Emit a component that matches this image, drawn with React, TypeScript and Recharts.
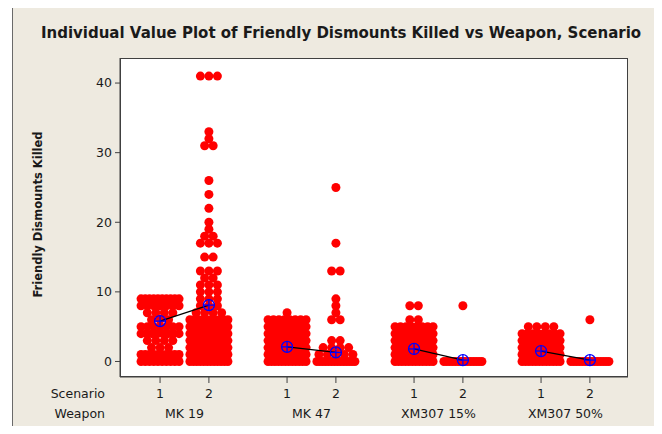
import React from 'react';
import { ScatterChart, Scatter, XAxis, YAxis } from 'recharts';

const weapons = ['MK 19', 'MK 47', 'XM307 15%', 'XM307 50%'];
const scenarios = ['1', '2'];

// [friendly dismounts killed, number of runs] per weapon / scenario
const mk19Scen1: [number, number][] = [
  [0, 10], [1, 10], [2, 3], [3, 4], [4, 8], [5, 7], [6, 3], [7, 4], [8, 7], [9, 10],
];
const mk19Scen2: [number, number][] = [
  [0, 12], [1, 10], [2, 10], [3, 10], [4, 10], [5, 10], [6, 10], [7, 4], [8, 3],
  [9, 3], [10, 3], [11, 3], [12, 2], [13, 3], [15, 2], [17, 3], [18, 2], [19, 1],
  [20, 1], [22, 1], [24, 1], [26, 1], [31, 2], [32, 1], [33, 1], [41, 3],
];
const mk47Scen1: [number, number][] = [
  [0, 12], [1, 10], [2, 10], [3, 10], [4, 10], [5, 10], [6, 8], [7, 1],
];
const mk47Scen2: [number, number][] = [
  [0, 14], [1, 5], [2, 4], [3, 2], [6, 2], [7, 1], [8, 1], [9, 1], [13, 2], [17, 1], [25, 1],
];
const xm15Scen1: [number, number][] = [
  [0, 12], [1, 10], [2, 10], [3, 10], [4, 10], [5, 8], [6, 2], [8, 2],
];
const xm15Scen2: [number, number][] = [[0, 14], [8, 1]];
const xm50Scen1: [number, number][] = [
  [0, 12], [1, 10], [2, 10], [3, 10], [4, 8], [5, 4],
];
const xm50Scen2: [number, number][] = [[0, 14], [6, 1]];

// scenario means (blue markers)
const meanScen1 = [5.8, 2.1, 1.8, 1.5];
const meanScen2 = [8.1, 1.3, 0.2, 0.2];

const groups = [
  [mk19Scen1, mk19Scen2],
  [mk47Scen1, mk47Scen2],
  [xm15Scen1, xm15Scen2],
  [xm50Scen1, xm50Scen2],
];

const GROUP_GAP = 2.6;
const X_DOMAIN: [number, number] = [0.18, 10.58];
const PX_PER_UNIT = 508 / (X_DOMAIN[1] - X_DOMAIN[0]);
const FONT = '"DejaVu Sans", Verdana, sans-serif';
const TEXT = '#1a1a1a';
const AXIS = '#404040';

const slot = (w: number, s: number) => w * GROUP_GAP + s + 1;

const scenarioTicks = weapons.flatMap((_, w) => [slot(w, 0), slot(w, 1)]);

// spread equal values sideways like Minitab's jitter
const points: { x: number; y: number }[] = [];
groups.forEach((pair, w) =>
  pair.forEach((rows, s) =>
    rows.forEach(([value, count]) => {
      const half = Math.min(19, (count - 1) * 4.25) / PX_PER_UNIT;
      for (let k = 0; k < count; k++) {
        const off = count === 1 ? 0 : -half + (2 * half * k) / (count - 1);
        points.push({ x: slot(w, s) + off, y: value });
      }
    })
  )
);

const meanLines = weapons.map((_, w) => [
  { x: slot(w, 0), y: meanScen1[w] },
  { x: slot(w, 1), y: meanScen2[w] },
]);

const Dot = (props: any) => <circle cx={props.cx} cy={props.cy} r={4.5} fill="#ff0000" />;

const MeanMarker = (props: any) => {
  const { cx, cy } = props;
  const r = 5.5;
  return (
    <g stroke="#0000ff" strokeWidth={1.3} fill="none">
      <circle cx={cx} cy={cy} r={r} />
      <line x1={cx - r} y1={cy} x2={cx + r} y2={cy} />
      <line x1={cx} y1={cy - r} x2={cx} y2={cy + r} />
    </g>
  );
};

// scenario number under each tick, weapon name centred under each pair
const ScenarioTick = (props: any) => {
  const { x, y, index } = props;
  const w = Math.floor(index / 2);
  return (
    <g fontFamily={FONT} fontSize={12.5} fill={TEXT}>
      <text x={x} y={y + 7} textAnchor="middle" dominantBaseline="central">
        {scenarios[index % 2]}
      </text>
      {index % 2 === 0 && (
        <text x={x + PX_PER_UNIT / 2} y={y + 27} textAnchor="middle" dominantBaseline="central">
          {weapons[w]}
        </text>
      )}
    </g>
  );
};

const YLabel = ({ viewBox }: any) => {
  const cx = viewBox.x + 38;
  const cy = viewBox.y + viewBox.height / 2 - 3;
  return (
    <text
      x={cx}
      y={cy}
      transform={`rotate(-90 ${cx} ${cy})`}
      textAnchor="middle"
      dominantBaseline="central"
      fontFamily={FONT}
      fontWeight="bold"
      fontSize={11.5}
      fill={TEXT}
    >
      Friendly Dismounts Killed
    </text>
  );
};

const RowLabels = ({ viewBox }: any) => (
  <g fontFamily={FONT} fontSize={12.5} fill={TEXT} textAnchor="end">
    <text x={viewBox.x - 15} y={viewBox.y + 16} dominantBaseline="central">
      Scenario
    </text>
    <text x={viewBox.x - 15} y={viewBox.y + 36} dominantBaseline="central">
      Weapon
    </text>
  </g>
);

export default function App() {
  return (
    <div style={{ position: 'relative', width: 662, height: 434, margin: -8 }}>
      <div
        style={{
          position: 'absolute',
          left: 12,
          top: 7,
          width: 644,
          height: 424,
          background: '#eeeae0',
          border: '1px solid #6a6a6a',
        }}
      />
      <div
        style={{
          position: 'absolute',
          left: 120,
          top: 58,
          width: 508,
          height: 319,
          background: '#ffffff',
          boxSizing: 'border-box',
          border: `1px solid ${AXIS}`,
        }}
      />
      <div
        style={{
          position: 'absolute',
          left: 341,
          top: 24,
          transform: 'translateX(-50%)',
          whiteSpace: 'nowrap',
          fontFamily: FONT,
          fontWeight: 'bold',
          fontSize: 15,
          color: TEXT,
        }}
      >
        Individual Value Plot of Friendly Dismounts Killed vs Weapon, Scenario
      </div>
      <div style={{ position: 'absolute', left: 0, top: 0 }}>
        <ScatterChart width={662} height={434} margin={{ top: 58, right: 34, bottom: 13, left: 0 }}>
          <XAxis
            type="number"
            dataKey="x"
            domain={X_DOMAIN}
            allowDataOverflow
            ticks={scenarioTicks}
            interval={0}
            height={44}
            tickSize={6}
            tickMargin={3}
            stroke={AXIS}
            tick={<ScenarioTick />}
            label={{ content: RowLabels }}
          />
          <YAxis
            type="number"
            dataKey="y"
            domain={[-2.23, 43.6]}
            allowDataOverflow
            ticks={[0, 10, 20, 30, 40]}
            interval={0}
            width={120}
            tickSize={5}
            tickMargin={3}
            stroke={AXIS}
            tick={{ fontFamily: FONT, fontSize: 12.5, fill: TEXT }}
            label={{ content: YLabel }}
          />
          <Scatter data={points} shape={Dot} isAnimationActive={false} />
          {meanLines.map((d, i) => (
            <Scatter
              key={i}
              data={d}
              line={{ stroke: '#000000', strokeWidth: 1.2 }}
              shape={MeanMarker}
              isAnimationActive={false}
            />
          ))}
        </ScatterChart>
      </div>
    </div>
  );
}
